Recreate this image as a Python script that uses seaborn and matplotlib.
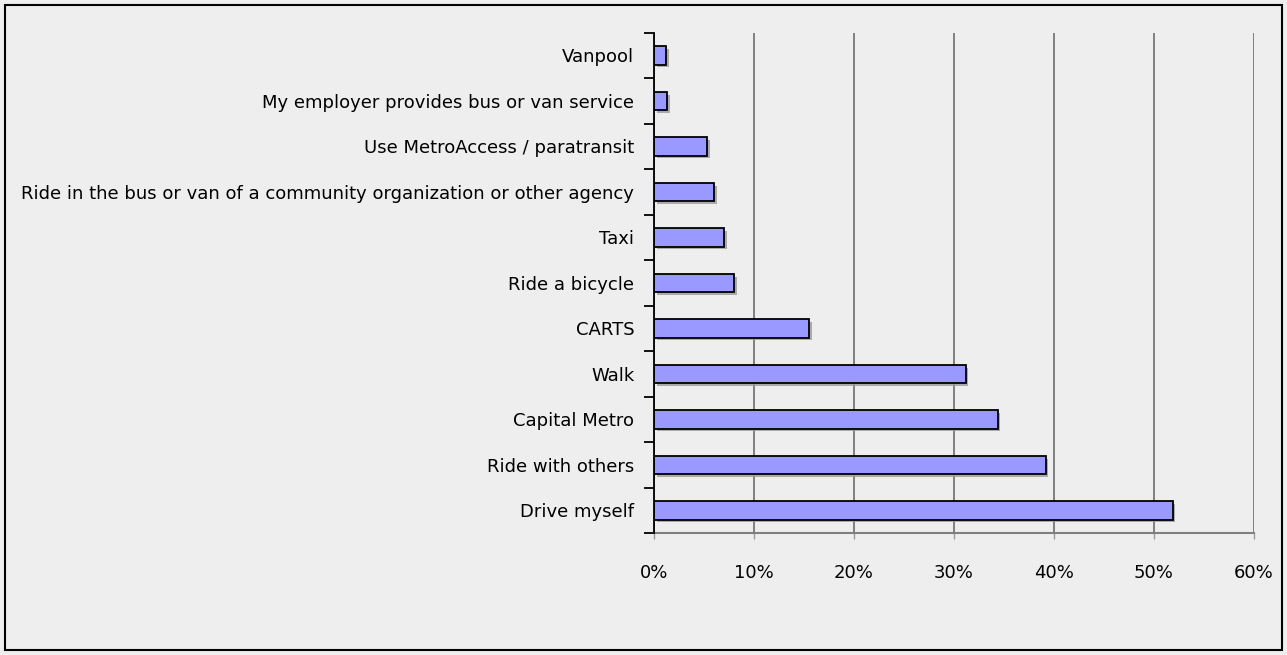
import matplotlib
matplotlib.use("Agg")
import matplotlib.pyplot as plt
import matplotlib.patheffects as pe
from matplotlib.patches import Rectangle
from matplotlib.ticker import FixedLocator, PercentFormatter
import seaborn as sns
import pandas as pd
import numpy as np

modes = [
    "Vanpool",
    "My employer provides bus or van service",
    "Use MetroAccess / paratransit",
    "Ride in the bus or van of a community organization or other agency",
    "Taxi",
    "Ride a bicycle",
    "CARTS",
    "Walk",
    "Capital Metro",
    "Ride with others",
    "Drive myself",
]
share = [1.2, 1.35, 5.3, 6.0, 7.0, 8.0, 15.5, 31.2, 34.4, 39.2, 51.9]
x_ticks = [0, 10, 20, 30, 40, 50, 60]

df = pd.DataFrame({"mode": modes, "share": share})

sns.set_style("white")
plt.rcParams["font.family"] = ["DejaVu Sans"]

bg = "#EEEEEE"
fig = plt.figure(figsize=(12.87, 6.55), dpi=100, facecolor=bg)
ax = fig.add_axes([0.508, 0.186, 0.466, 0.764])
ax.set_facecolor(bg)

sns.barplot(data=df, x="share", y="mode", order=modes, orient="h",
            color="#9999FF", saturation=1, width=0.4,
            edgecolor="black", linewidth=1.3, ax=ax, zorder=3)
for p in ax.patches:
    p.set_path_effects([pe.SimplePatchShadow(offset=(2, -2), shadow_rgbFace="#999999", alpha=0.8),
                        pe.Normal()])

ax.set_xlim(0, 60)
ax.set_ylim(len(modes) - 0.5, -0.5)
ax.xaxis.set_major_locator(FixedLocator(x_ticks))
ax.xaxis.set_major_formatter(PercentFormatter(decimals=0))
ax.grid(axis="x", color="#808080", linewidth=1.4, zorder=0)
ax.grid(axis="y", visible=False)

ax.set_xlabel("")
ax.set_ylabel("")

# category separators as outward ticks on the value axis
ax.yaxis.set_minor_locator(FixedLocator(np.arange(-0.5, len(modes), 1.0)))
ax.tick_params(axis="y", which="major", left=False, length=0, pad=14,
               labelsize=13, colors="black")
ax.tick_params(axis="y", which="minor", left=True, length=7, width=1.3,
               color="black", direction="out")
ax.tick_params(axis="x", which="major", bottom=True, length=4, width=1, color="#999999",
               direction="out", pad=18, labelsize=13, labelcolor="black")

for side in ("top", "right"):
    ax.spines[side].set_visible(False)
ax.spines["left"].set_color("black")
ax.spines["left"].set_linewidth(1.3)
ax.spines["left"].set_zorder(4)
ax.spines["bottom"].set_color("#808080")
ax.spines["bottom"].set_linewidth(1.5)

# outer frame of the chart area
fig.patches.append(Rectangle((5 / 1287, 5 / 655), 1277 / 1287, 645 / 655,
                             transform=fig.transFigure, fill=False,
                             edgecolor="black", linewidth=1.5))

fig.savefig("out.png", dpi=100, facecolor=bg)
